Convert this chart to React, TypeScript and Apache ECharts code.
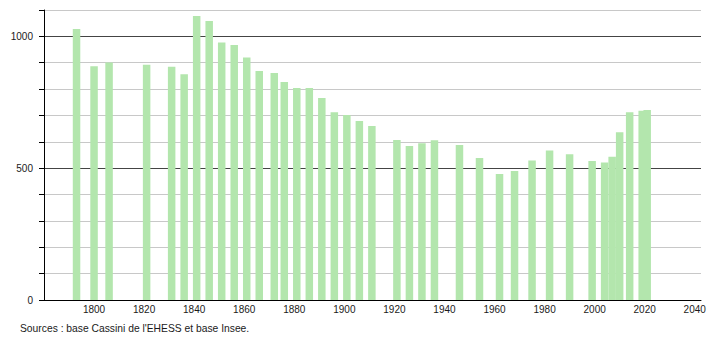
import React, { useEffect, useRef } from "react";
import * as echarts from "echarts";

const years = [1793, 1800, 1806, 1821, 1831, 1836, 1841, 1846, 1851, 1856, 1861, 1866, 1872, 1876, 1881, 1886, 1891, 1896, 1901, 1906, 1911, 1921, 1926, 1931, 1936, 1946, 1954, 1962, 1968, 1975, 1982, 1990, 1999, 2004, 2007, 2010, 2014, 2019, 2021];
const population = [1028, 887, 901, 892, 885, 856, 1077, 1058, 977, 967, 920, 869, 861, 827, 804, 804, 766, 712, 702, 679, 660, 607, 584, 595, 606, 588, 539, 478, 489, 529, 567, 553, 527, 522, 543, 636, 712, 718, 721];
const yLabels = [0, 500, 1000];
const sourceText = "Sources : base Cassini de l'EHESS et base Insee.";

export default function App() {
  const ref = useRef<HTMLDivElement>(null);
  useEffect(() => {
    if (!ref.current) return;
    const chart = echarts.init(ref.current, null, { renderer: "svg" });
    const font = "'Liberation Sans', Arial, sans-serif";
    chart.setOption({
      animation: false,
      grid: { left: 44, right: 9, top: 10, bottom: 40, containLabel: false },
      xAxis: {
        type: "value",
        min: 1780,
        max: 2042.5,
        interval: 20,
        axisLine: { show: true, lineStyle: { color: "#000", width: 1 } },
        axisTick: { show: false },
        splitLine: { show: false },
        axisLabel: {
          color: "#1a1a1a",
          fontSize: 10,
          fontFamily: font,
          margin: 4,
          showMinLabel: false,
          showMaxLabel: true,
          formatter: (v: number) => (v % 20 === 0 && v >= 1800 && v <= 2040 ? String(v) : ""),
        },
      },
      yAxis: {
        type: "value",
        min: 0,
        max: 1100,
        interval: 100,
        axisLine: { show: true, lineStyle: { color: "#000", width: 1 } },
        axisTick: { show: true, length: 5, lineStyle: { color: "#000" } },
        splitLine: {
          show: true,
          lineStyle: { color: ["#444", "#c8c8c8", "#c8c8c8", "#c8c8c8", "#c8c8c8"], width: 1 },
        },
        axisLabel: {
          color: "#1a1a1a",
          fontSize: 10,
          fontFamily: font,
          margin: 11,
          formatter: (v: number) => (yLabels.includes(v) ? String(v) : ""),
        },
      },
      series: [
        {
          type: "bar",
          barWidth: 7.5,
          data: years.map((y, i) => [y, population[i]]),
          itemStyle: { color: "#b3e6ad" },
        },
      ],
      graphic: [
        {
          type: "text",
          left: 20,
          top: 323,
          style: { text: sourceText, fontSize: 10.3, fontFamily: font, fill: "#1a1a1a" },
        },
      ],
    });
    return () => chart.dispose();
  }, []);
  return <div ref={ref} style={{ width: 710, height: 340, position: "absolute", left: 0, top: 0 }} />;
}
